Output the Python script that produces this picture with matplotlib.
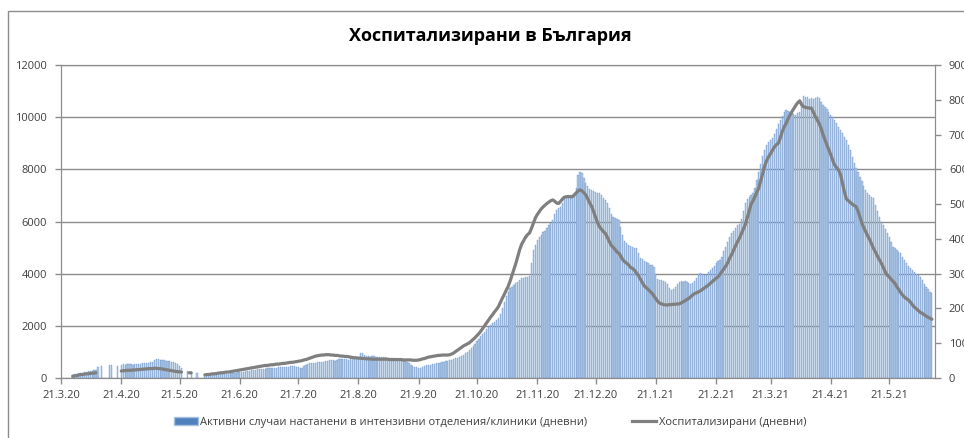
import numpy as np
import pandas as pd
import matplotlib
matplotlib.use('Agg')
import matplotlib.pyplot as plt
from matplotlib.patches import Patch, Rectangle
from matplotlib.lines import Line2D

nan = np.nan

# daily data, first day 21.3.2020
start_date = '2020-03-21'
title = 'Хоспитализирани в България'
bar_label = 'Активни случаи настанени в интензивни отделения/клиники (дневни)'
line_label = 'Хоспитализирани (дневни)'
xtick_labels = ['21.3.20', '21.4.20', '21.5.20', '21.6.20', '21.7.20', '21.8.20',
                '21.9.20', '21.10.20', '21.11.20', '21.12.20', '21.1.21', '21.2.21',
                '21.3.21', '21.4.21', '21.5.21']

# bars (left axis)
bar_values = [
    # март 2020 (от 21.3)
    nan, nan, nan, nan, nan, nan, 130, 150, 170, 180, 200,
    # април
    210, 230, 240, 260, 270, 280, 290, 300,
    420, nan, 460, nan, nan, nan, 500, 480, nan, nan, 470, nan,
    500, 520, 510, 530, 540, 520, 500, 530, 550, 540,
    # май
    550, 560, 570, 580, 590, 600, 610, 700, 730, 720,
    700, 690, 680, 660, 650, 640, 620, 600, 560, 520,
    450, 380, nan, nan, 260, nan, 240, nan, nan, 200, nan,
    # юни
    nan, nan, 90, 100, 105, 110, 115, 120, 130, 135,
    140, 150, 155, 165, 170, 180, 190, 200, 210, 220,
    225, 235, 245, 255, 265, 280, 290, 300, 315, 330,
    # юли
    340, 350, 360, 355, 370, 380, 385, 390, 400, 395,
    410, 420, 430, 425, 420, 440, 450, 445, 460, 440,
    420, 380, 400, 470, 500, 530, 560, 580, 570, 590, 610,
    # август
    620, 630, 610, 640, 660, 680, 700, 690, 670, 700,
    710, 720, 730, 740, 720, 700, 760, 770, 780, 790,
    800, 940, 950, 900, 860, 830, 820, 840, 830, 820, 810,
    # септември
    810, 800, 790, 800, 780, 770, 760, 750, 740, 730,
    720, 700, 680, 650, 610, 580, 500, 470, 440, 420,
    380, 400, 430, 460, 480, 500, 510, 530, 550, 560,
    # октомври
    570, 590, 610, 620, 640, 660, 680, 700, 720, 750,
    780, 820, 860, 900, 950, 1010, 1070, 1150, 1230, 1320,
    1400, 1500, 1600, 1690, 1780, 1870, 1960, 2030, 2100, 2160, 2230,
    # ноември
    2300, 2450, 2700, 2900, 3150, 3300, 3440, 3500, 3580, 3630,
    3680, 3750, 3820, 3850, 3870, 3880, 3900, 4400, 4900, 5100,
    5300, 5420, 5500, 5580, 5650, 5740, 5850, 5950, 6060, 6300,
    # декември
    6450, 6520, 6570, 6700, 6850, 6950, 6980, 7000, 7020, 7100,
    7300, 7800, 7910, 7850, 7650, 7460, 7350, 7250, 7210, 7180,
    7150, 7100, 7080, 7000, 6900, 6820, 6700, 6500, 6300, 6180, 6150,
    # януари 2021
    6100, 6050, 5800, 5500, 5250, 5160, 5100, 5060, 5030, 5000,
    4980, 4800, 4600, 4560, 4500, 4460, 4400, 4350, 4330, 4250,
    4000, 3800, 3760, 3740, 3720, 3690, 3600, 3450, 3370, 3400, 3480,
    # февруари
    3600, 3690, 3700, 3680, 3720, 3690, 3650, 3600, 3630, 3700,
    3850, 3980, 4010, 3990, 3960, 3950, 4050, 4150, 4200, 4300,
    4400, 4480, 4520, 4650, 4850, 5030, 5200, 5400,
    # март
    5550, 5650, 5750, 5850, 5900, 6100, 6400, 6700, 6850, 6950,
    7020, 7080, 7300, 7600, 7900, 8200, 8500, 8750, 8930, 9050,
    9120, 9190, 9350, 9550, 9750, 9890, 10050, 10200, 10280, 10250, 10200,
    # април
    10150, 10120, 10100, 10150, 10200, 10600, 10800, 10790, 10760, 10700,
    10720, 10680, 10750, 10780, 10720, 10600, 10480, 10400, 10300, 10200,
    10100, 10020, 9900, 9780, 9640, 9500, 9380, 9250, 9120, 8950,
    # май
    8750, 8480, 8250, 8050, 7880, 7720, 7550, 7380, 7210, 7100,
    7020, 6950, 6890, 6650, 6400, 6180, 6000, 5850, 5700, 5550,
    5400, 5200, 5030, 4980, 4900, 4840, 4780, 4650, 4520, 4400, 4300,
    # юни
    4220, 4140, 4050, 3980, 3930, 3880, 3750, 3620, 3500, 3400, 3300, 3250,
]

# line (right axis)
line_values = [
    # март 2020
    nan, nan, nan, nan, nan, nan, 5, 6, 7, 8, 10,
    # април
    10, 11, 12, 12, 13, 14, 14, 15,
    nan, nan, nan, nan, nan, nan, nan, nan, nan, nan, nan, nan,
    20, 21, 21, 22, 22, 22, 23, 23, 24, 24,
    # май
    25, 25, 26, 26, 27, 27, 27, 28, 28, 27,
    27, 26, 25, 24, 23, 22, 21, 20, 19, 18,
    18, 17, nan, nan, nan, 15, 15, nan, nan, nan, nan,
    # юни
    nan, nan, 9, 10, 10, 11, 12, 12, 13, 14,
    15, 15, 16, 17, 17, 18, 19, 20, 21, 22,
    23, 24, 25, 26, 27, 28, 29, 30, 31, 32,
    # юли
    33, 34, 35, 36, 36, 37, 38, 38, 39, 40,
    40, 41, 42, 42, 43, 44, 45, 45, 46, 47,
    48, 49, 50, 52, 53, 55, 57, 59, 61, 63, 64,
    # август
    65, 66, 66, 67, 67, 67, 66, 66, 65, 65,
    64, 63, 63, 62, 62, 61, 60, 59, 58, 58,
    57, 57, 56, 56, 55, 55, 55, 54, 54, 54, 54,
    # септември
    54, 54, 54, 54, 54, 53, 53, 53, 53, 53,
    53, 53, 52, 52, 52, 52, 52, 51, 51, 51,
    52, 53, 55, 56, 58, 60, 61, 62, 63, 64,
    # октомври
    65, 65, 66, 66, 66, 66, 67, 69, 72, 76,
    80, 84, 88, 92, 95, 98, 101, 106, 111, 116,
    122, 128, 135, 143, 151, 159, 167, 175, 182, 190, 197,
    # ноември
    205, 217, 229, 240, 252, 263, 278, 295, 311, 330,
    350, 370, 385, 395, 405, 412, 417, 430, 445, 460,
    470, 478, 486, 492, 497, 502, 506, 510, 512, 508,
    # декември
    503, 502, 508, 515, 520, 521, 522, 521, 521, 526,
    532, 538, 541, 538, 533, 526, 515, 503, 493, 478,
    462, 447, 435, 428, 421, 416, 405, 393, 382, 376, 370,
    # януари 2021
    362, 359, 350, 340, 334, 330, 325, 318, 315, 310,
    302, 295, 285, 275, 265, 260, 255, 249, 244, 236,
    228, 220, 215, 213, 211, 210, 210, 211, 211, 212, 212,
    # февруари
    213, 213, 216, 219, 222, 226, 229, 234, 239, 243,
    245, 248, 251, 255, 259, 263, 267, 272, 277, 282,
    287, 291, 298, 306, 314, 322, 332, 345,
    # март
    355, 368, 380, 392, 402, 415, 428, 441, 460, 480,
    500, 510, 522, 535, 547, 568, 590, 610, 625, 636,
    645, 655, 664, 671, 675, 690, 708, 722, 732, 745, 756,
    # април
    766, 775, 784, 792, 797, 786, 780, 778, 777, 776,
    776, 765, 752, 742, 732, 718, 700, 685, 670, 656,
    642, 626, 612, 605, 598, 585, 560, 535, 515, 510,
    # май
    505, 500, 496, 493, 480, 462, 445, 432, 420, 408,
    398, 385, 372, 362, 350, 340, 330, 318, 305, 296,
    291, 284, 278, 272, 262, 254, 245, 238, 232, 228, 224,
    # юни
    218, 210, 204, 199, 194, 189, 186, 182, 178, 175, 172, 169,
]

plt.rcParams['font.family'] = ['Open Sans', 'DejaVu Sans']

days = pd.date_range(start_date, periods=len(bar_values), freq='D')
tick_dates = [pd.to_datetime(t, format='%d.%m.%y') for t in xtick_labels]

grey = '#8c8c8c'
txt = '#404040'

fig = plt.figure(figsize=(9.64, 4.38), dpi=100)
ax = fig.add_axes([61 / 964, 1 - 378 / 438, (935 - 61) / 964, (378 - 65) / 438])

ax.bar(days, bar_values, width=0.62, color='#b4c9e6', edgecolor='#5b8cc8',
       linewidth=0.25, zorder=2)
ax.set_ylim(0, 12000)
ax.set_yticks(range(0, 12001, 2000))
ax.set_xlim(days[0], days[0] + pd.Timedelta(days=449.6))
ax.set_xticks(tick_dates)
ax.set_xticklabels(xtick_labels)
ax.grid(axis='y', color=grey, lw=1)
ax.set_axisbelow(True)

ax2 = ax.twinx()
ax2.plot(days, line_values, color='#7f7f7f', lw=2.3, solid_capstyle='round')
ax2.set_ylim(0, 900)
ax2.set_yticks(range(0, 901, 100))

for a in (ax, ax2):
    for s in a.spines.values():
        s.set_color(grey)
    a.tick_params(colors=grey, labelcolor=txt, labelsize=8, length=4, width=1)
ax.tick_params(axis='x', pad=5)
ax.tick_params(axis='y', pad=6)
ax2.tick_params(axis='y', pad=6)

fig.text(490 / 964, 1 - 36 / 438, title, ha='center', va='center',
         fontsize=13, fontweight='bold', color='black')

handles = [Patch(facecolor='#4f81bd', edgecolor='#a8c0e0'),
           Line2D([], [], color='#7f7f7f', lw=2.3)]
fig.legend(handles, [bar_label, line_label], loc='center',
           bbox_to_anchor=(490 / 964, 1 - 422 / 438), ncol=2, frameon=False,
           fontsize=8, handlelength=2.2, handletextpad=0.2, columnspacing=4,
           labelcolor=txt)

# chart area border (cropped at right and bottom)
fig.add_artist(Rectangle((8 / 964, -0.1), 1.2, 1 - 11 / 438 + 0.1,
                         transform=fig.transFigure, fill=False,
                         edgecolor=grey, lw=1))

fig.savefig('out.png', dpi=100)
